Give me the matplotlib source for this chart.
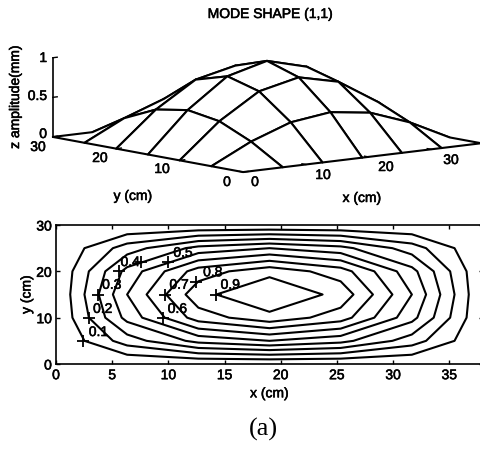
import matplotlib
matplotlib.use('Agg')
from matplotlib import pyplot as plt
from matplotlib import patheffects
from matplotlib.text import Text
import numpy as np

plt.rcParams['font.family'] = ['Liberation Sans', 'DejaVu Sans']

# grid of the measured mode shape
x_cm = [0, 6.33, 12.67, 19, 25.33, 31.67, 38]
y_cm = [0, 5, 10, 15, 20, 25, 30]
z_amp = [
    [0, 0, 0, 0, 0, 0, 0],
    [0, 0.25, 0.433, 0.5, 0.433, 0.25, 0],
    [0, 0.433, 0.75, 0.866, 0.75, 0.433, 0],
    [0, 0.5, 0.866, 1.0, 0.866, 0.5, 0],
    [0, 0.433, 0.75, 0.866, 0.75, 0.433, 0],
    [0, 0.25, 0.433, 0.5, 0.433, 0.25, 0],
    [0, 0, 0, 0, 0, 0, 0],
]
levels = [0.1, 0.2, 0.3, 0.4, 0.5, 0.6, 0.7, 0.8, 0.9]

# contour label positions
label_text = ['0.1', '0.2', '0.3', '0.4', '0.5', '0.6', '0.7', '0.8', '0.9']
label_x = [3.77, 4.16, 4.96, 6.6, 11.3, 10.8, 10.95, 13.95, 15.5]
label_y = [6.9, 11.9, 17.1, 22.0, 24.0, 11.9, 17.1, 19.8, 17.1]
mark_x = [2.43, 2.9, 3.7, 5.6, 7.6, 10.0, 9.5, 9.7, 12.5, 14.2]
mark_y = [4.9, 9.9, 15.0, 20.0, 22.0, 22.0, 10.0, 15.0, 17.7, 15.0]

x3d_ticks = [0, 10, 20, 30]
y3d_ticks = [0, 10, 20, 30]
z3d_ticks = [0, 0.5, 1]
z3d_labels = ['0', '0.5', '1']
x2d_ticks = [0, 5, 10, 15, 20, 25, 30, 35]
y2d_ticks = [0, 10, 20, 30]

# pixel spots of the surface tick labels
x3d_label_px = [(255, 182), (323, 175), (386, 167), (451, 160)]
y3d_label_px = [(227, 182), (162, 169), (100, 158), (38, 147)]

W, H = 481, 449
LW = 1.5
FS = 10
fig = plt.figure(figsize=(W / 100, H / 100), dpi=100)
X, Y = np.meshgrid(x_cm, y_cm)
Z = np.array(z_amp)


def px_text(px, py, s, **kw):
    kw.setdefault('fontsize', FS)
    kw.setdefault('ha', 'center')
    kw.setdefault('va', 'center')
    return fig.text(px / W, 1 - py / H, s, **kw)


# top: surface
ax3 = fig.add_axes([61.6 / W, 143.1 / H, 400 / W, 400 / H], projection='3d', proj_type='ortho')
ax3.computed_zorder = False
ax3.view_init(elev=8.6, azim=-129)
ax3.set_xlim(0, 38)
ax3.set_ylim(0, 30)
ax3.set_zlim(0, 1)
ax3.set_box_aspect((306, 302, 80), zoom=1.0626)
ax3.set_axis_off()
ax3.patch.set_alpha(0)
ax3.plot_surface(X, Y, Z, rstride=1, cstride=1, color='white', edgecolor='black',
                 linewidth=LW, shade=False, zorder=1, clip_on=False)
ax3.plot([0, 0], [30, 30], [0, 1], color='black', lw=1.2, zorder=10, clip_on=False)
for t in z3d_ticks:
    ax3.plot([0, 0.7], [30, 30], [t, t], color='black', lw=1, zorder=10, clip_on=False)
for t, (px, py) in zip(x3d_ticks, x3d_label_px):
    ax3.plot([t, t], [0, 0.6], [0, 0], color='black', lw=1, zorder=10, clip_on=False)
    px_text(px, py, str(t))
for t, (px, py) in zip(y3d_ticks, y3d_label_px):
    ax3.plot([0, 0.8], [t, t], [0, 0], color='black', lw=1, zorder=10, clip_on=False)
    px_text(px, py, str(t))
for t, lab in zip(z3d_ticks, z3d_labels):
    px_text(47, 134 - 76 * t, lab, ha='right')

px_text(270, 14, 'MODE SHAPE (1,1)', fontsize=10)
px_text(133, 196, 'y (cm)')
px_text(362, 198, 'x (cm)')
px_text(15, 97, 'z amplitude(mm)', rotation=90)

# bottom: contour
ax = fig.add_axes([56 / W, 1 - 364 / H, 427 / W, 139 / H])
ax.contour(X, Y, Z, levels=levels, colors='black', linewidths=LW)
ax.plot(mark_x, mark_y, '+', color='black', ms=8, mew=1.3)
for lab, lx, ly in zip(label_text, label_x, label_y):
    ax.text(lx, ly, lab, fontsize=FS, ha='center', va='center')
ax.set_xlim(0, 38)
ax.set_ylim(0, 30)
ax.set_xticks(x2d_ticks)
ax.set_yticks(y2d_ticks)
ax.tick_params(direction='in', top=True, right=True, length=3, width=1, labelsize=FS, pad=3)
for s in ax.spines.values():
    s.set_linewidth(1.2)
ax.set_xlabel('x (cm)', fontsize=FS, labelpad=3)
ax.set_ylabel('y (cm)', fontsize=FS, labelpad=2)

# the scan makes all the sans text look heavy
for t in fig.findobj(Text):
    t.set_path_effects([patheffects.withStroke(linewidth=0.4, foreground='black')])

px_text(263, 429, '(a)', fontsize=19, family='Liberation Serif')

plt.savefig('out.png', dpi=100)
